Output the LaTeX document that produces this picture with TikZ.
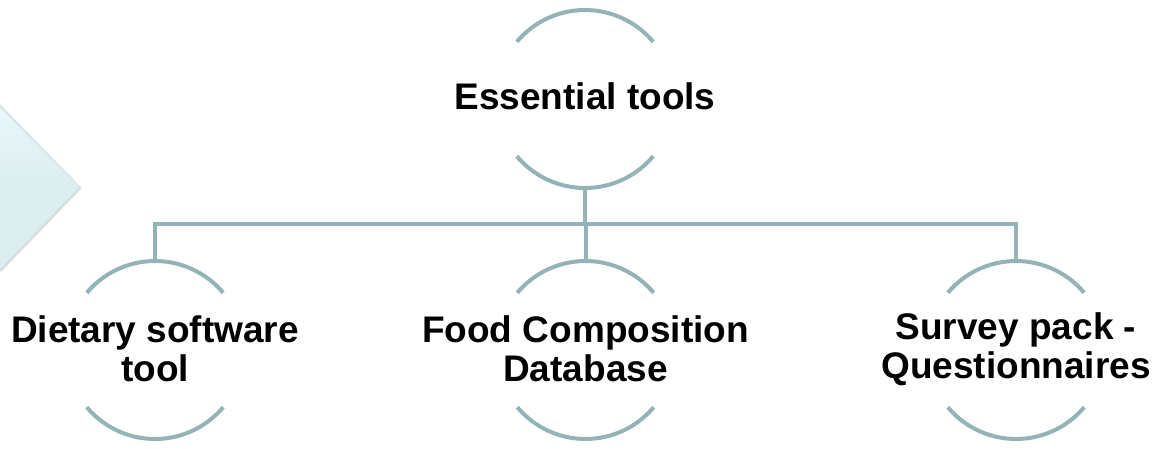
\documentclass[tikz,border=0pt]{standalone}
\usepackage{fontspec}
\setmainfont{Liberation Sans}
\usetikzlibrary{shadows}
\definecolor{linec}{HTML}{93B3B6}
\definecolor{arrowtop}{HTML}{EAF6F7}
\definecolor{arrowbot}{HTML}{DCEEF0}
\definecolor{arrowedge}{HTML}{C8DFE2}
\tikzset{
  ring/.style={circle, minimum size=178pt, inner sep=0pt, outer sep=0pt, draw=none},
  lbl/.style={font=\bfseries\fontsize{37}{39}\selectfont, align=center, inner sep=0pt, text=black},
  arcline/.style={draw=linec, line width=4pt},
  conn/.style={draw=linec, line width=4pt, line join=miter},
}
\begin{document}
\begin{tikzpicture}[x=1pt, y=-1pt]
\useasboundingbox (0,0) rectangle (1163,448);
% pale chevron tip at left edge
\path[fill=arrowbot, draw=arrowedge, line width=0.8pt,
      drop shadow={opacity=0.25, shadow xshift=1.5pt, shadow yshift=-1.5pt}]
  (-10,105) -- (0,105) -- (80,187) -- (0,270) -- (-10,270) -- cycle;
\path[top color=arrowtop, bottom color=arrowbot]
  (0,108) -- (76,187) -- (0,187) -- cycle;
% nodes
\node[ring] (top) at (585,99) {};
\node[ring] (n1) at (155,350) {};
\node[ring] (n2) at (585.5,350) {};
\node[ring] (n3) at (1016,350) {};
\node[lbl] (ttop) at (585,96) {Essential tools};
\node[lbl] (t1) at (155,349) {Dietary software\\tool};
\node[lbl] (t2) at (585.5,349) {Food Composition\\Database};
\node[lbl] (t3) at (1016,349) {Survey pack -\\Questionnaires};
% arcs
\foreach \n in {top,n1,n2,n3}{
  \draw[arcline] (\n.140) arc[start angle=140, end angle=40, radius=89pt];
  \draw[arcline] (\n.220) arc[start angle=220, end angle=320, radius=89pt];
}
% connectors
\coordinate (bus) at (585,224);
\draw[conn] (top.south) -- (top.south |- bus);
\draw[conn] (n1.north) -- (n1.north |- bus) -- (n3.north |- bus) -- (n3.north);
\draw[conn] (n2.north) -- (n2.north |- bus);
\end{tikzpicture}
\end{document}
